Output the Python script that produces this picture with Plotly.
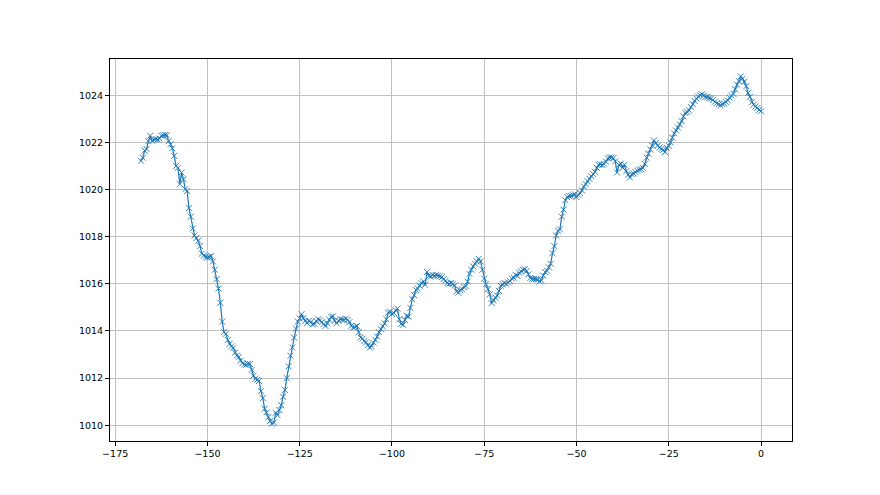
import numpy as np
import plotly.graph_objects as go

# hours before now, half-hour readings
hours = np.arange(-168, 0.01, 0.5)

# pressure (hPa)
pressure = [
    1021.22, 1021.35, 1021.65, 1021.72, 1022.05, 1022.28, 1022.07, 1022.12, 1022.14, 1022.12,
    1022.16, 1022.28, 1022.30, 1022.31, 1022.30, 1022.05, 1021.92, 1021.75, 1021.43, 1021.00,
    1020.92, 1020.23, 1020.72, 1020.44, 1020.01, 1019.94, 1019.21, 1018.85, 1018.35, 1018.05,
    1017.94, 1017.83, 1017.60, 1017.28, 1017.20, 1017.15, 1017.12, 1017.14, 1017.18, 1016.95,
    1016.60, 1016.20, 1015.80, 1015.20, 1014.40, 1013.95, 1013.88, 1013.62, 1013.45, 1013.35,
    1013.28, 1013.08, 1012.96, 1012.90, 1012.74, 1012.64, 1012.58, 1012.57, 1012.61, 1012.60,
    1012.35, 1012.10, 1011.98, 1011.93, 1011.88, 1011.45, 1011.15, 1010.70, 1010.55, 1010.35,
    1010.18, 1010.07, 1010.12, 1010.53, 1010.43, 1010.65, 1010.85, 1011.21, 1011.50, 1012.00,
    1012.50, 1012.95, 1013.30, 1013.72, 1014.10, 1014.40, 1014.53, 1014.71, 1014.55, 1014.42,
    1014.33, 1014.43, 1014.38, 1014.28, 1014.30, 1014.42, 1014.50, 1014.45, 1014.38, 1014.30,
    1014.21, 1014.33, 1014.48, 1014.60, 1014.62, 1014.43, 1014.33, 1014.43, 1014.50, 1014.48,
    1014.47, 1014.53, 1014.47, 1014.38, 1014.22, 1014.15, 1014.17, 1014.21, 1013.95, 1013.72,
    1013.67, 1013.57, 1013.52, 1013.40, 1013.30, 1013.35, 1013.50, 1013.62, 1013.76, 1013.95,
    1014.08, 1014.20, 1014.32, 1014.50, 1014.78, 1014.82, 1014.72, 1014.76, 1014.88, 1014.95,
    1014.50, 1014.30, 1014.26, 1014.47, 1014.64, 1014.61, 1014.98, 1015.35, 1015.52, 1015.74,
    1015.80, 1015.92, 1016.03, 1016.10, 1015.96, 1016.50, 1016.34, 1016.31, 1016.38, 1016.34,
    1016.37, 1016.35, 1016.32, 1016.28, 1016.20, 1016.12, 1016.03, 1016.00, 1016.03, 1016.00,
    1015.93, 1015.68, 1015.62, 1015.74, 1015.77, 1015.86, 1015.90, 1016.10, 1016.42, 1016.60,
    1016.74, 1016.85, 1016.95, 1017.06, 1016.95, 1016.60, 1016.22, 1015.98, 1015.78, 1015.55,
    1015.18, 1015.30, 1015.42, 1015.50, 1015.70, 1015.92, 1015.98, 1016.03, 1016.00, 1016.06,
    1016.12, 1016.22, 1016.26, 1016.38, 1016.33, 1016.47, 1016.53, 1016.60, 1016.62, 1016.55,
    1016.40, 1016.25, 1016.21, 1016.21, 1016.21, 1016.19, 1016.10, 1016.15, 1016.35, 1016.50,
    1016.56, 1016.70, 1016.85, 1017.30, 1017.60, 1018.05, 1018.25, 1018.31, 1018.85, 1019.15,
    1019.55, 1019.68, 1019.72, 1019.73, 1019.76, 1019.80, 1019.68, 1019.77, 1019.85, 1019.96,
    1020.13, 1020.23, 1020.35, 1020.45, 1020.57, 1020.66, 1020.75, 1020.92, 1021.05, 1021.07,
    1021.04, 1021.09, 1021.18, 1021.32, 1021.36, 1021.36, 1021.33, 1021.20, 1020.72, 1021.05,
    1021.10, 1020.92, 1021.05, 1020.78, 1020.63, 1020.51, 1020.65, 1020.68, 1020.74, 1020.80,
    1020.84, 1020.86, 1020.92, 1021.09, 1021.35, 1021.52, 1021.70, 1021.87, 1022.08, 1021.97,
    1021.86, 1021.78, 1021.72, 1021.68, 1021.59, 1021.77, 1021.85, 1022.00, 1022.20, 1022.38,
    1022.50, 1022.63, 1022.76, 1022.90, 1023.10, 1023.25, 1023.29, 1023.36, 1023.50, 1023.62,
    1023.76, 1023.86, 1023.94, 1024.00, 1024.04, 1023.98, 1023.93, 1023.93, 1023.88, 1023.86,
    1023.80, 1023.72, 1023.66, 1023.62, 1023.57, 1023.62, 1023.65, 1023.72, 1023.78, 1023.90,
    1023.98, 1024.06, 1024.25, 1024.45, 1024.60, 1024.80, 1024.70, 1024.57, 1024.38, 1024.10,
    1023.93, 1023.70, 1023.60, 1023.52, 1023.46, 1023.38, 1023.32,
]

x_ticks = [-175, -150, -125, -100, -75, -50, -25, 0]
y_ticks = [1010, 1012, 1014, 1016, 1018, 1020, 1022, 1024]

# matplotlib-style 5% margins
xpad = (hours.max() - hours.min()) * 0.05
ypad = (max(pressure) - min(pressure)) * 0.05

fig = go.Figure(go.Scatter(
    x=hours, y=pressure,
    mode='lines+markers',
    line=dict(color='#1f77b4', width=1.2),
    marker=dict(symbol='x-thin', size=6, line=dict(width=0.9, color='#1f77b4')),
))

axis_style = dict(
    showline=True, linecolor='black', linewidth=1, mirror=True,
    ticks='outside', ticklen=4, tickcolor='black',
    showgrid=True, gridcolor='#c0c0c0', gridwidth=0.8,
    zeroline=False, tickfont=dict(family='DejaVu Sans', size=9.5, color='black'),
)

fig.update_xaxes(range=[hours.min() - xpad, hours.max() + xpad],
                 tickvals=x_ticks, **axis_style)
fig.update_yaxes(range=[min(pressure) - ypad, max(pressure) + ypad],
                 tickvals=y_ticks, **axis_style)

# page body has an 8px margin, so the figure is a bit smaller than the window
fig.update_layout(
    width=872, height=487,
    margin=dict(l=102, r=88, t=51, b=54),
    plot_bgcolor='white', paper_bgcolor='white',
    showlegend=False,
)

fig.write_html("out.html")
